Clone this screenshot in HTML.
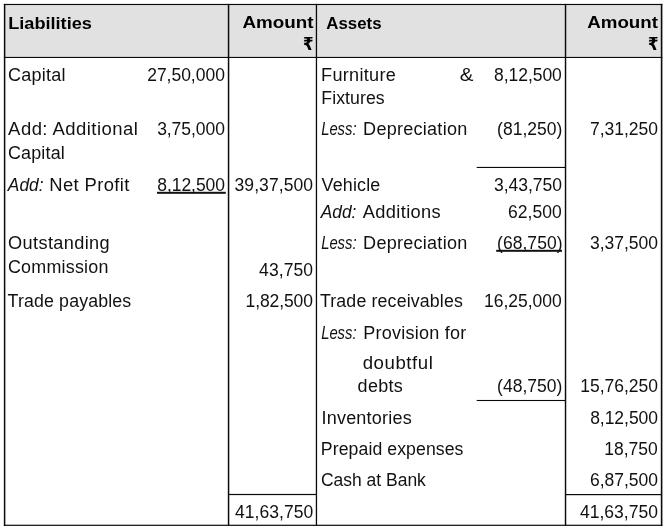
<!DOCTYPE html>
<html lang="en"><head><meta charset="utf-8"><title>Balance Sheet</title>
<style>
html,body{margin:0;padding:0;background:#fff;}
body{width:671px;height:531px;position:relative;overflow:hidden;font-family:"Liberation Sans",sans-serif;font-size:17.5px;color:#111;}
.t{position:absolute;left:0;white-space:nowrap;line-height:20px;height:20px;transform-origin:0 0;}
.b{font-weight:bold;color:#000;font-size:17px;transform-origin:0 0;}
.g{position:absolute;left:0;top:0;}
.ru{position:absolute;font-family:"DejaVu Sans",sans-serif;font-weight:bold;font-size:18px;line-height:20px;color:#000;transform:scaleX(0.84);transform-origin:0 0;}

</style></head><body>
<svg class="g" width="671" height="531" viewBox="0 0 671 531">
<rect x="4.5" y="4.5" width="657" height="53" fill="#e1e1e1"/>
<rect x="3.85" y="3.9" width="658.55" height="1.15" fill="#0a0a0a"/>
<rect x="3.85" y="56.9" width="658.55" height="1.1" fill="#0a0a0a"/>
<rect x="3.85" y="524.7" width="658.55" height="1.2" fill="#0a0a0a"/>
<rect x="228.5" y="493.9" width="88.0" height="1.2" fill="#0a0a0a"/>
<rect x="565.5" y="494.0" width="96.0" height="1.2" fill="#0a0a0a"/>
<rect x="476.7" y="166.9" width="88.8" height="1.1" fill="#0a0a0a"/>
<rect x="476.7" y="399.95" width="88.8" height="1.1" fill="#0a0a0a"/>
<rect x="3.85" y="3.9" width="1.5" height="522" fill="#0a0a0a"/>
<rect x="227.8" y="3.9" width="1.5" height="522" fill="#0a0a0a"/>
<rect x="315.8" y="3.9" width="1.3" height="522" fill="#0a0a0a"/>
<rect x="564.8" y="3.9" width="1.45" height="522" fill="#0a0a0a"/>
<rect x="660.8" y="3.9" width="1.6" height="522" fill="#0a0a0a"/>
<rect x="157" y="191.8" width="68.8" height="2.0" fill="#111"/>
<rect x="496.2" y="249.8" width="65.8" height="2.0" fill="#111"/>
</svg>
<span class="t b" style="top:14px;transform:translateX(8.18px) scaleX(1.0672);">Liabilities</span>
<span class="t b" style="top:13px;transform:translateX(242.44px) scaleX(1.1071);">Amount</span>
<span class="t b" style="top:14px;transform:translateX(326.3px) scaleX(0.9899);">Assets</span>
<span class="t b" style="top:13px;transform:translateX(587.23px) scaleX(1.1011);">Amount</span>
<span class="t" style="top:65px;letter-spacing:0.24px;transform:translateX(7.97px) scaleX(1.0305);">Capital</span>
<span class="t" style="top:65px;letter-spacing:-0.02px;transform:translateX(147.18px);">27,50,000</span>
<span class="t" style="top:119px;letter-spacing:0.43px;transform:translateX(8.12px) scaleX(1.0563);">Add: Additional</span>
<span class="t" style="top:119px;letter-spacing:-0.05px;transform:translateX(157.13px);">3,75,000</span>
<span class="t" style="top:143px;letter-spacing:0.16px;transform:translateX(7.98px) scaleX(1.0247);">Capital</span>
<span class="t" style="top:175px;transform:translateX(7.81px) scaleX(0.9922);"><i>Add:</i></span>
<span class="t" style="top:175px;letter-spacing:0.36px;transform:translateX(49.3px) scaleX(1.0515);">Net Profit</span>
<span class="t" style="top:175px;letter-spacing:-0.07px;transform:translateX(157.32px);">8,12,500</span>
<span class="t" style="top:175px;letter-spacing:0.08px;transform:translateX(234.53px);">39,37,500</span>
<span class="t" style="top:233px;letter-spacing:0.36px;transform:translateX(8.04px) scaleX(1.0375);">Outstanding</span>
<span class="t" style="top:257px;letter-spacing:0.22px;transform:translateX(7.98px) scaleX(1.0223);">Commission</span>
<span class="t" style="top:260px;letter-spacing:0.07px;transform:translateX(259.11px);">43,750</span>
<span class="t" style="top:291px;letter-spacing:0.14px;transform:translateX(7.55px) scaleX(1.0155);">Trade payables</span>
<span class="t" style="top:291px;letter-spacing:-0.1px;transform:translateX(245.55px);">1,82,500</span>
<span class="t" style="top:502px;letter-spacing:0.02px;transform:translateX(235.11px);">41,63,750</span>
<span class="t" style="top:65px;letter-spacing:0.29px;transform:translateX(321.03px) scaleX(1.0333);">Furniture</span>
<span class="t" style="top:65px;transform:translateX(459.84px) scaleX(1.17);">&amp;</span>
<span class="t" style="top:65px;letter-spacing:-0.04px;transform:translateX(494.0px);">8,12,500</span>
<span class="t" style="top:88px;letter-spacing:0.08px;transform:translateX(321.26px) scaleX(1.0099);">Fixtures</span>
<span class="t" style="top:119px;transform:translateX(321.13px) scaleX(0.8473);"><i>Less:</i></span>
<span class="t" style="top:119px;letter-spacing:0.25px;transform:translateX(363.09px) scaleX(1.0311);">Depreciation</span>
<span class="t" style="top:119px;transform:translateX(497.12px);">(81,250)</span>
<span class="t" style="top:119px;letter-spacing:-0.02px;transform:translateX(589.97px);">7,31,250</span>
<span class="t" style="top:175px;letter-spacing:0.18px;transform:translateX(321.52px) scaleX(1.0222);">Vehicle</span>
<span class="t" style="top:175px;letter-spacing:-0.05px;transform:translateX(494.09px);">3,43,750</span>
<span class="t" style="top:202px;transform:translateX(320.73px) scaleX(0.9908);"><i>Add:</i></span>
<span class="t" style="top:202px;letter-spacing:0.35px;transform:translateX(362.7px) scaleX(1.0431);">Additions</span>
<span class="t" style="top:202px;letter-spacing:0.05px;transform:translateX(507.9px);">62,500</span>
<span class="t" style="top:233px;transform:translateX(321.13px) scaleX(0.8473);"><i>Less:</i></span>
<span class="t" style="top:233px;letter-spacing:0.25px;transform:translateX(363.09px) scaleX(1.0311);">Depreciation</span>
<span class="t" style="top:233px;letter-spacing:0.03px;transform:translateX(497.09px);">(68,750)</span>
<span class="t" style="top:233px;letter-spacing:-0.02px;transform:translateX(590.01px);">3,37,500</span>
<span class="t" style="top:291px;letter-spacing:0.14px;transform:translateX(319.92px) scaleX(1.016);">Trade receivables</span>
<span class="t" style="top:291px;transform:translateX(483.94px);">16,25,000</span>
<span class="t" style="top:323px;transform:translateX(321.13px) scaleX(0.8473);"><i>Less:</i></span>
<span class="t" style="top:323px;letter-spacing:0.24px;transform:translateX(363.19px) scaleX(1.0301);">Provision for</span>
<span class="t" style="top:353px;letter-spacing:0.53px;transform:translateX(362.64px) scaleX(1.065);">doubtful</span>
<span class="t" style="top:376px;letter-spacing:0.29px;transform:translateX(357.61px) scaleX(1.0276);">debts</span>
<span class="t" style="top:376px;transform:translateX(497.12px);">(48,750)</span>
<span class="t" style="top:376px;letter-spacing:-0.03px;transform:translateX(580.35px);">15,76,250</span>
<span class="t" style="top:408px;letter-spacing:0.22px;transform:translateX(321.43px) scaleX(1.029);">Inventories</span>
<span class="t" style="top:408px;letter-spacing:-0.04px;transform:translateX(590.16px);">8,12,500</span>
<span class="t" style="top:439px;letter-spacing:0.08px;transform:translateX(320.85px) scaleX(1.0092);">Prepaid expenses</span>
<span class="t" style="top:439px;letter-spacing:0.03px;transform:translateX(604.15px);">18,750</span>
<span class="t" style="top:470px;letter-spacing:-0.01px;transform:translateX(320.99px) scaleX(0.9992);">Cash at Bank</span>
<span class="t" style="top:470px;letter-spacing:-0.02px;transform:translateX(590.0px);">6,87,500</span>
<span class="t" style="top:502px;letter-spacing:0.02px;transform:translateX(579.89px);">41,63,750</span>
<span class="ru" style="left:302.5px;top:34px">₹</span>
<span class="ru" style="left:647.7px;top:34px">₹</span>
</body></html>
